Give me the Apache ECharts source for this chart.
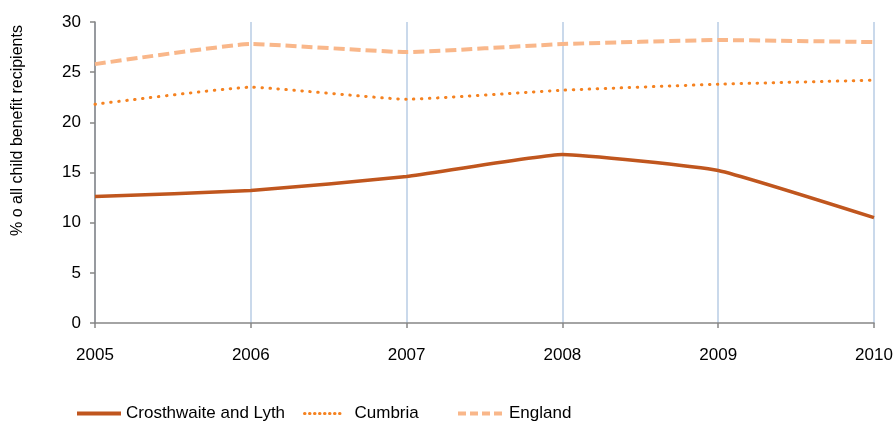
<!DOCTYPE html>
<html><head><meta charset="utf-8">
<script src="https://cdn.jsdelivr.net/npm/echarts@6/dist/echarts.min.js"></script>
<style>html,body{margin:0;padding:0;background:#fff}#c{width:896px;height:423px}</style>
</head><body><div id="c"></div>
<script>
var years = ['2005','2006','2007','2008','2009','2010'];
var crosthwaite = [12.6, 13.2, 14.6, 16.8, 15.2, 10.5];
var cumbria = [21.8, 23.5, 22.3, 23.2, 23.8, 24.2];
var england = [25.8, 27.8, 27.0, 27.8, 28.2, 28.0];
var names = ['Crosthwaite and Lyth', 'Cumbria', 'England'];

var font = 'Liberation Sans, Arial, sans-serif';
var chart = echarts.init(document.getElementById('c'));
function leg(name, left, w, gap, ls) {
  return {data: [name], left: left, top: 405, padding: 0, itemWidth: w, itemHeight: 14, itemGap: 6,
    itemStyle: {opacity: 0}, lineStyle: ls,
    textStyle: {fontFamily: font, fontSize: 17, color: '#000', padding: [0, 0, 0, gap - 5]}};
}
chart.setOption({
  animation: false,
  grid: {left: 95, right: 22, top: 22, bottom: 100, containLabel: false},
  legend: [
    leg(names[0], 75, 44, 5, {width: 4}),
    leg(names[1], 303, 40, 10, {width: 3, type: [0.5, 4.5], cap: 'round'}),
    leg(names[2], 456, 46, 5, {width: 4, type: [8, 4]})
  ],
  xAxis: {
    type: 'category', data: years, boundaryGap: false,
    axisLine: {lineStyle: {color: '#868686', width: 1.5}},
    axisTick: {show: true, length: 5, lineStyle: {color: '#868686', width: 1.5}},
    axisLabel: {fontFamily: font, fontSize: 17, color: '#000', margin: 24},
    splitLine: {show: true, lineStyle: {color: '#B9CDE5', width: 1.5}}
  },
  yAxis: {
    type: 'value', min: 0, max: 30, interval: 5,
    name: '% o all child benefit recipients', nameLocation: 'middle', nameGap: 69,
    nameTextStyle: {fontFamily: font, fontSize: 16, color: '#000', padding: [0, 0, 0, 84]},
    axisLine: {show: true, lineStyle: {color: '#868686', width: 1.5}},
    axisTick: {show: true, length: 5, lineStyle: {color: '#868686', width: 1.5}},
    axisLabel: {fontFamily: font, fontSize: 17, color: '#000', margin: 14},
    splitLine: {show: false}
  },
  series: [
    {name: names[0], type: 'line', data: crosthwaite, symbol: 'none', smooth: 0.12,
     lineStyle: {color: '#C0561E', width: 3.5}, itemStyle: {color: '#C0561E'}},
    {name: names[1], type: 'line', data: cumbria, symbol: 'none', smooth: 0.12,
     lineStyle: {color: '#F58220', width: 3, type: [0.5, 7.5], cap: 'round'}, itemStyle: {color: '#F58220'}},
    {name: names[2], type: 'line', data: england, symbol: 'none', smooth: 0.12,
     lineStyle: {color: '#F9B78A', width: 4, type: [11, 5]}, itemStyle: {color: '#F9B78A'}}
  ]
});
</script></body></html>
